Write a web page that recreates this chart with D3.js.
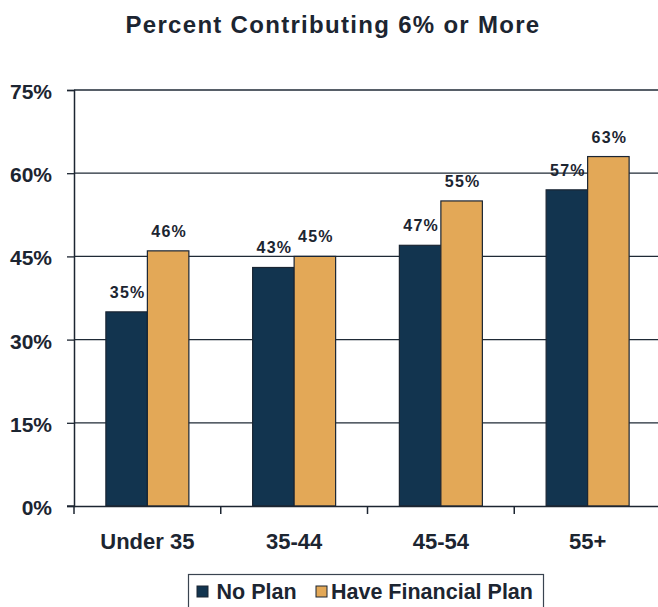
<!DOCTYPE html>
<html>
<head>
<meta charset="utf-8">
<script src="https://cdn.jsdelivr.net/npm/d3@7"></script>
<style>
  html, body { margin: 0; padding: 0; background: #fff; }
  svg { display: block; font-family: "Liberation Sans", Arial, sans-serif; }
</style>
</head>
<body>
<svg id="chart" width="658" height="607"></svg>
<script>
// Age groups and the share contributing 6% or more
const categories = ["Under 35", "35-44", "45-54", "55+"];
const seriesNames = ["No Plan", "Have Financial Plan"];
const noPlan = [35, 43, 47, 57];
const havePlan = [46, 45, 55, 63];
const yTicks = [0, 15, 30, 45, 60, 75];

const colors = ["#12344f", "#e3a857"];
const ink = "#1c2531";
const font = "Liberation Sans, Arial, sans-serif";

const svg = d3.select("#chart");
const margin = { top: 90, left: 74, right: -3, bottom: 101 };
const W = 658, H = 607;
const plotW = W - margin.left - margin.right;
const plotH = H - margin.top - margin.bottom;

const x = d3.scaleBand().domain(categories).range([0, plotW]);
const xs = d3.scaleBand().domain(seriesNames).range([0, 83]);
const y = d3.scaleLinear().domain([0, 75]).range([plotH, 0]);

// Title
svg.append("text")
  .attr("x", 333).attr("y", 33)
  .attr("text-anchor", "middle")
  .attr("font-size", 24).attr("font-weight", "bold")
  .attr("letter-spacing", 1.3)
  .attr("fill", ink)
  .text("Percent Contributing 6% or More");

const g = svg.append("g").attr("transform", `translate(${margin.left},${margin.top})`);

// Horizontal gridlines
g.append("g").selectAll("line")
  .data(yTicks.filter(d => d > 0))
  .join("line")
  .attr("x1", 0).attr("x2", plotW)
  .attr("y1", d => y(d)).attr("y2", d => y(d))
  .attr("stroke", "#1f2a36").attr("stroke-width", 1.3);

// Y axis
const yAxis = g.append("g")
  .call(d3.axisLeft(y).tickValues(yTicks).tickFormat(d => d + "%").tickSize(7).tickPadding(15));
yAxis.select(".domain").attr("stroke", ink).attr("stroke-width", 1.5);
yAxis.selectAll(".tick line").attr("stroke", ink).attr("stroke-width", 1.3);
yAxis.selectAll(".tick text")
  .attr("font-size", 21).attr("font-weight", "bold").attr("fill", ink)
  .attr("font-family", font)
  .attr("dy", "0.4em");

// Bars
const rows = categories.map((c, i) => ({ cat: c, vals: [noPlan[i], havePlan[i]] }));
const groups = g.append("g").selectAll("g")
  .data(rows)
  .join("g")
  .attr("transform", d => `translate(${x(d.cat) + (x.bandwidth() - 83) / 2},0)`);

const items = groups.selectAll("g")
  .data(d => d.vals.map((v, k) => ({ name: seriesNames[k], v, k })))
  .join("g");

items.append("rect")
  .attr("x", d => xs(d.name))
  .attr("width", xs.bandwidth())
  .attr("y", d => y(d.v))
  .attr("height", d => plotH - y(d.v))
  .attr("fill", d => colors[d.k])
  .attr("stroke", "#1a2533").attr("stroke-width", 1.2);

items.append("text")
  .attr("x", d => xs(d.name) + xs.bandwidth() / 2 + 1)
  .attr("y", d => y(d.v) - 14)
  .attr("text-anchor", "middle")
  .attr("font-size", 16).attr("font-weight", "bold")
  .attr("letter-spacing", 1.2)
  .attr("fill", ink)
  .text(d => d.v + "%");

// X axis
const xAxis = g.append("g")
  .attr("transform", `translate(0,${plotH})`)
  .call(d3.axisBottom(x).tickSize(0).tickPadding(27.5));
xAxis.select(".domain").attr("stroke", ink).attr("stroke-width", 1.5);
xAxis.selectAll(".tick text")
  .attr("font-size", 22).attr("font-weight", "bold").attr("fill", ink)
  .attr("font-family", font);

// Category boundary ticks below the axis
g.append("g").selectAll("line")
  .data(categories)
  .join("line")
  .attr("x1", d => x(d)).attr("x2", d => x(d))
  .attr("y1", plotH).attr("y2", plotH + 8)
  .attr("stroke", ink).attr("stroke-width", 1.5);
// short tick left of the origin
g.append("line")
  .attr("x1", -7).attr("x2", 0)
  .attr("y1", plotH).attr("y2", plotH)
  .attr("stroke", ink).attr("stroke-width", 1.3);

// Legend
const lg = svg.append("g");
lg.append("rect")
  .attr("x", 188.5).attr("y", 574.5)
  .attr("width", 355).attr("height", 40)
  .attr("fill", "#fff").attr("stroke", "#3a4450").attr("stroke-width", 1.2);

const legendItems = [
  { name: seriesNames[0], color: colors[0], sx: 197, tx: 216.5 },
  { name: seriesNames[1], color: colors[1], sx: 316, tx: 331 }
];
legendItems.forEach(it => {
  lg.append("rect")
    .attr("x", it.sx).attr("y", 586)
    .attr("width", 11).attr("height", 11)
    .attr("fill", it.color).attr("stroke", "#1a2533").attr("stroke-width", 1);
  lg.append("text")
    .attr("x", it.tx).attr("y", 599)
    .attr("font-size", 21.5).attr("font-weight", "bold")
    .attr("fill", ink)
    .text(it.name);
});
</script>
</body>
</html>
